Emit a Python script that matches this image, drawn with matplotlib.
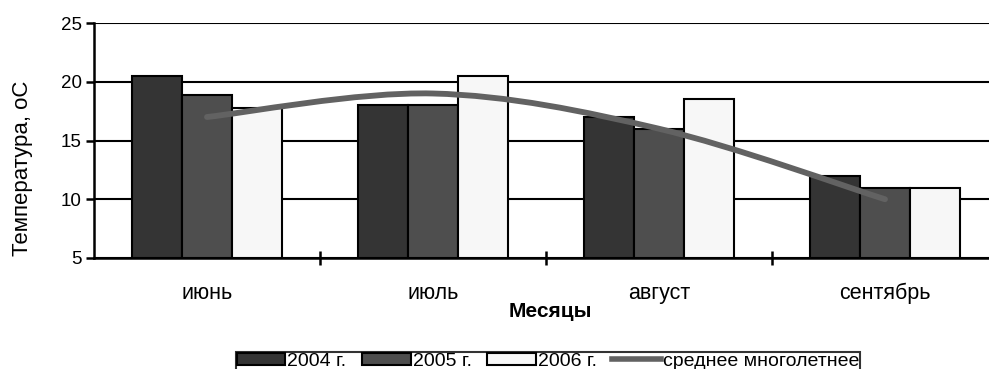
import numpy as np
import matplotlib.pyplot as plt
from matplotlib.path import Path
from matplotlib.patches import PathPatch
from matplotlib.lines import Line2D

plt.rcParams['font.family'] = ['Liberation Sans', 'DejaVu Sans']

# данные
months = ['июнь', 'июль', 'август', 'сентябрь']
t2004 = [20.5, 18.0, 17.0, 12.0]
t2005 = [18.9, 18.0, 16.0, 11.0]
t2006 = [17.8, 20.5, 18.5, 11.0]
t_mean = [17.0, 19.0, 16.0, 10.0]
series_labels = ['2004 г.', '2005 г.', '2006 г.', 'среднее многолетнее']

W, H = 989, 369
fig = plt.figure(figsize=(W / 100, H / 100), dpi=100)
ax = fig.add_axes([94 / W, 1 - 258 / H, (998 - 94) / W, (258 - 23) / H])

x = np.arange(len(months))
w = 0.22
cols = ['#343434', '#4e4e4e', '#f7f7f7']
bars = []
for k, (vals, c) in enumerate(zip([t2004, t2005, t2006], cols)):
    b = ax.bar(x + (k - 1) * w, np.array(vals) - 5, w, bottom=5, color=c,
               edgecolor='black', linewidth=1.5, zorder=3)
    bars.append(b)

# сглаженная линия (как в Excel: кривые Безье через точки)
pts = np.column_stack([x, t_mean]).astype(float)
ext = np.vstack([pts[0], pts, pts[-1]])
verts = [tuple(pts[0])]
codes = [Path.MOVETO]
for i in range(len(pts) - 1):
    p0, p1, p2, p3 = ext[i], ext[i + 1], ext[i + 2], ext[i + 3]
    c1 = p1 + (p2 - p0) / 6
    c2 = p2 - (p3 - p1) / 6
    verts += [tuple(c1), tuple(c2), tuple(p2)]
    codes += [Path.CURVE4] * 3
ax.add_patch(PathPatch(Path(verts, codes), facecolor='none', edgecolor='#626262',
                       linewidth=4.2, capstyle='round', zorder=4))

ax.set_xlim(-0.5, 3.5)
ax.set_ylim(5, 25)
ax.set_yticks([5, 10, 15, 20, 25])
ax.yaxis.grid(True, color='black', linewidth=1.5, zorder=0)
ax.set_axisbelow(True)
for s in ['top', 'right']:
    ax.spines[s].set_visible(False)
for s in ['left', 'bottom']:
    ax.spines[s].set_linewidth(1.8)

ax.set_xticks(x)
ax.set_xticklabels(months, fontsize=15.5)
ax.set_xticks([0.5, 1.5, 2.5], minor=True)
ax.tick_params(axis='x', which='major', length=0, pad=18)
ax.tick_params(axis='x', which='minor', length=10, width=1.8, direction='inout')
ax.tick_params(axis='y', length=6, width=1.8, labelsize=13.5, pad=3)

ax.set_xlabel('Месяцы', fontsize=15, fontweight='bold', va='top')
ax.xaxis.set_label_coords((550 - 94) / 904, (258 - 302) / 235)
ax.set_ylabel('Температура, оС', fontsize=16, va='center')
ax.yaxis.set_label_coords((23 - 94) / 904, (258 - 168) / 235)

handles = [b.patches[0] for b in bars]
handles.append(Line2D([], [], color='#626262', linewidth=4))
leg = fig.legend(handles, series_labels, loc='upper center',
                 bbox_to_anchor=(548 / W, 1 - 342 / H), ncol=4, fontsize=14,
                 frameon=True, fancybox=False, handlelength=2.5, handleheight=0.55,
                 handletextpad=0.1, columnspacing=0.8, borderpad=0.05)
leg.get_frame().set_edgecolor('black')
leg.get_frame().set_linewidth(1.5)

fig.savefig('out.png', dpi=100)
